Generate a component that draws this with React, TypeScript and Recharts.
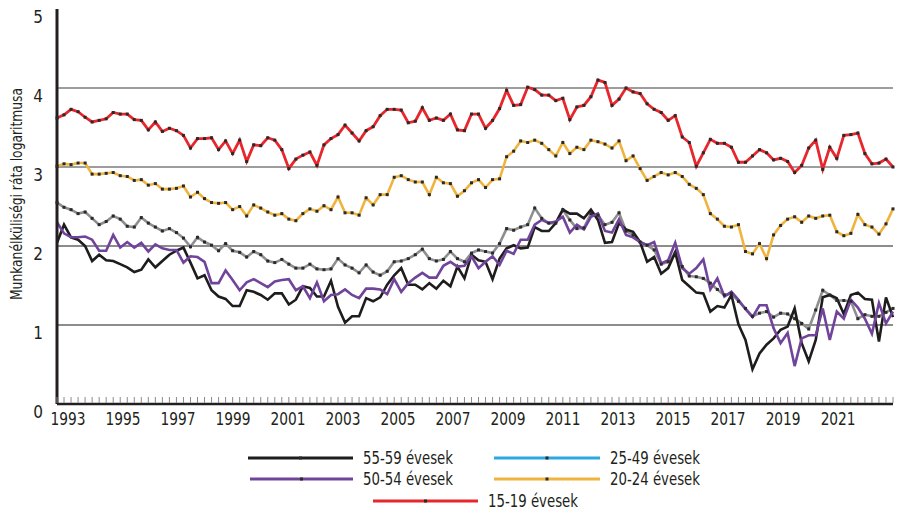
import React from "react";
import { LineChart, Line, XAxis, YAxis, ReferenceLine } from "recharts";

const FONT = "'Liberation Sans Narrow', 'Arial Narrow', 'DejaVu Sans Condensed', sans-serif";
const INK = "#231f20";

// quarterly observations, 1993 Q1 .. 2022 Q4
const quarters = Array.from({ length: 120 }, (_, i) => `${1993 + Math.floor(i / 4)} Q${(i % 4) + 1}`);

const yearLabels = ["1993", "1995", "1997", "1999", "2001", "2003", "2005", "2007", "2009", "2011", "2013", "2015", "2017", "2019", "2021"];

const age1519 = [
  3.62, 3.66, 3.73, 3.7, 3.63, 3.57, 3.59, 3.61, 3.69, 3.67,
  3.67, 3.6, 3.59, 3.47, 3.57, 3.45, 3.49, 3.46, 3.4, 3.24,
  3.36, 3.36, 3.37, 3.22, 3.33, 3.17, 3.34, 3.07, 3.28, 3.27,
  3.37, 3.34, 3.22, 2.98, 3.1, 3.15, 3.19, 3.02, 3.28, 3.36,
  3.41, 3.53, 3.43, 3.33, 3.46, 3.51, 3.65, 3.73, 3.73, 3.72,
  3.56, 3.58, 3.75, 3.59, 3.62, 3.59, 3.67, 3.47, 3.46, 3.67,
  3.67, 3.49, 3.59, 3.74, 3.97, 3.78, 3.79, 4.01, 3.98, 3.91,
  3.91, 3.84, 3.87, 3.6, 3.76, 3.78, 3.89, 4.1, 4.07, 3.78,
  3.86, 4.0, 3.95, 3.93, 3.8, 3.73, 3.69, 3.59, 3.65, 3.38,
  3.31, 3.01, 3.18, 3.35, 3.3, 3.3, 3.25, 3.06, 3.06, 3.14,
  3.22, 3.18, 3.09, 3.11, 3.07, 2.93, 3.02, 3.24, 3.34, 2.97,
  3.25, 3.11, 3.4, 3.41, 3.43, 3.17, 3.04, 3.05, 3.1, 3.0,
];

const age2024 = [
  3.01, 3.04, 3.03, 3.05, 3.05, 2.91, 2.91, 2.92, 2.93, 2.89,
  2.88, 2.83, 2.84, 2.77, 2.79, 2.72, 2.72, 2.73, 2.76, 2.62,
  2.68, 2.6, 2.55, 2.54, 2.55, 2.46, 2.5, 2.38, 2.52, 2.48,
  2.43, 2.39, 2.41, 2.34, 2.32, 2.41, 2.47, 2.44, 2.51, 2.46,
  2.62, 2.42, 2.42, 2.39, 2.61, 2.52, 2.65, 2.65, 2.87, 2.89,
  2.84, 2.81, 2.81, 2.65, 2.87, 2.8, 2.79, 2.63, 2.7, 2.8,
  2.84, 2.74, 2.84, 2.85, 3.13, 3.2, 3.33, 3.31, 3.34, 3.3,
  3.22, 3.14, 3.31, 3.17, 3.25, 3.22, 3.34, 3.32, 3.29, 3.24,
  3.33, 3.08, 3.14, 2.98, 2.83, 2.88, 2.93, 2.9, 2.93, 2.88,
  2.78, 2.73, 2.65, 2.41, 2.34, 2.25, 2.24, 2.27, 1.93, 1.9,
  2.03, 1.84, 2.14, 2.26, 2.34, 2.37, 2.3, 2.38, 2.35, 2.38,
  2.39, 2.18, 2.13, 2.16, 2.4, 2.27, 2.24, 2.15, 2.28, 2.47,
];

const age2549 = [
  2.55, 2.49, 2.46, 2.41, 2.43, 2.35, 2.27, 2.31, 2.38, 2.34,
  2.25, 2.24, 2.36, 2.29, 2.24, 2.19, 2.22, 2.17, 2.1, 1.99,
  2.11, 2.05, 2.01, 1.94, 2.03, 1.94, 1.92, 1.86, 1.93, 1.89,
  1.81, 1.79, 1.83, 1.77, 1.72, 1.72, 1.77, 1.71, 1.7, 1.71,
  1.84, 1.76, 1.72, 1.66, 1.76, 1.67, 1.63, 1.68, 1.8, 1.81,
  1.84, 1.89, 1.96, 1.84, 1.81, 1.83, 1.93, 1.84, 1.8, 1.91,
  1.95, 1.93, 1.91, 2.03, 2.22, 2.2, 2.24, 2.27, 2.48, 2.35,
  2.29, 2.29, 2.46, 2.33, 2.22, 2.23, 2.41, 2.39, 2.27, 2.3,
  2.42, 2.19, 2.14, 2.05, 2.01, 1.95, 1.77, 1.8, 1.91, 1.74,
  1.62, 1.61, 1.59, 1.53, 1.45, 1.38, 1.4, 1.3, 1.21, 1.11,
  1.15, 1.17, 1.1, 1.15, 1.14, 1.08, 1.02, 0.95, 1.19, 1.44,
  1.38, 1.31, 1.31, 1.3, 1.08, 1.13, 1.11, 1.11, 1.16, 1.21,
];

const age5054 = [
  2.3, 2.16, 2.11, 2.11, 2.12, 2.08, 1.94, 1.94, 2.14, 1.98,
  2.05, 1.98, 2.04, 1.93, 2.02, 1.97, 1.95, 1.95, 1.79, 1.87,
  1.86, 1.8, 1.53, 1.53, 1.69, 1.57, 1.44, 1.54, 1.58, 1.53,
  1.48, 1.55, 1.57, 1.58, 1.44, 1.49, 1.34, 1.54, 1.3, 1.38,
  1.39, 1.45, 1.38, 1.34, 1.46, 1.46, 1.45, 1.39, 1.58, 1.42,
  1.53, 1.6, 1.66, 1.6, 1.6, 1.75, 1.8, 1.74, 1.75, 1.87,
  1.72, 1.8, 1.87, 1.76, 1.94, 1.9, 2.08, 2.08, 2.27, 2.33,
  2.29, 2.31, 2.37, 2.17, 2.27, 2.21, 2.37, 2.41, 2.19, 2.17,
  2.34, 2.14, 2.11, 2.05, 2.01, 2.05, 1.78, 1.82, 2.04, 1.72,
  1.65, 1.72, 1.83, 1.45, 1.59, 1.36, 1.42, 1.32, 1.2, 1.1,
  1.25, 1.25, 0.96, 0.77, 0.9, 0.48, 0.83, 0.87, 0.87, 1.21,
  0.81, 1.17, 1.08, 1.32, 1.22, 1.08, 0.89, 1.28, 1.02, 1.17,
];

const age5559 = [
  2.04, 2.27, 2.11, 2.08, 2.0, 1.81, 1.89, 1.82, 1.81, 1.77,
  1.73, 1.67, 1.7, 1.83, 1.73, 1.81, 1.89, 1.94, 1.98, 1.79,
  1.59, 1.63, 1.44, 1.36, 1.33, 1.24, 1.24, 1.44, 1.42, 1.38,
  1.32, 1.4, 1.4, 1.26, 1.32, 1.49, 1.47, 1.36, 1.36, 1.56,
  1.23, 1.03, 1.11, 1.11, 1.34, 1.3, 1.35, 1.51, 1.63, 1.72,
  1.51, 1.51, 1.45, 1.53, 1.46, 1.56, 1.49, 1.74, 1.59, 1.89,
  1.82, 1.8, 1.58, 1.84, 1.97, 2.01, 1.97, 1.98, 2.24, 2.19,
  2.19, 2.29, 2.46, 2.41, 2.41, 2.35, 2.46, 2.33, 2.04, 2.05,
  2.29, 2.21, 2.18, 2.05, 1.8, 1.86, 1.65, 1.72, 1.92, 1.57,
  1.49, 1.41, 1.4, 1.17, 1.24, 1.22, 1.38, 1.01, 0.81, 0.44,
  0.64, 0.75, 0.83, 0.94, 0.98, 1.21, 0.77, 0.54, 0.81, 1.35,
  1.38, 1.34, 1.14, 1.38, 1.41, 1.33, 1.32, 0.79, 1.35, 1.1,
];

const data = quarters.map((q, i) => ({
  t: i,
  q,
  a1519: age1519[i],
  a2024: age2024[i],
  a2549: age2549[i],
  a5054: age5054[i],
  a5559: age5559[i],
}));

// year labels sit roughly mid-year, one every two years
const labelPos = yearLabels.map((_, k) => 1.57 + k * 7.83);
const labelAt = new Map(labelPos.map((p, k) => [p, yearLabels[k]]));
const xTicks = [...quarters.map((_, i) => i), ...labelPos];

const COLORS = {
  a5559: "#1f1c1d",
  a5054: "#71449b",
  a2549: "#8f8f8f",
  a2024: "#f0b43e",
  a1519: "#e8262b",
  legendBlue: "#2aa9e0",
};

const SquareDot = (p: any) => {
  if (p.cx == null || p.cy == null) return <g key={p.key} />;
  return <rect key={p.key} x={p.cx - 1.5} y={p.cy - 1.5} width={3} height={3} fill="#2a2a2a" />;
};

const XTick = (p: any) => {
  const { x, y, payload } = p;
  const label = labelAt.get(payload.value);
  if (label) {
    return (
      <text x={x} y={y + 21} textAnchor="middle" fontSize={17} fill={INK} fontFamily={FONT} textLength={35} lengthAdjust="spacingAndGlyphs">
        {label}
      </text>
    );
  }
  return <line x1={x} x2={x} y1={y - 1} y2={y - 7} stroke="#8a8a8a" strokeWidth={1} />;
};

const YTick = (p: any) => (
  <text x={p.x} y={p.y + 14} textAnchor="end" fontSize={17} fill={INK} fontFamily={FONT}>
    {p.payload.value}
  </text>
);

const legendItems = [
  { label: "55-59 évesek", color: COLORS.a5559, x1: 248, x2: 353, y: 458 },
  { label: "25-49 évesek", color: COLORS.legendBlue, x1: 494, x2: 600, y: 458 },
  { label: "50-54 évesek", color: COLORS.a5054, x1: 250, x2: 353, y: 479 },
  { label: "20-24 évesek", color: COLORS.a2024, x1: 494, x2: 600, y: 479 },
  { label: "15-19 évesek", color: COLORS.a1519, x1: 373, x2: 478, y: 501 },
];

const App = () => {
  return (
    <div style={{ position: "relative", width: 898, height: 513, background: "#fff" }}>
      <style>{"body{margin:0}"}</style>
      <LineChart width={898} height={513} data={data} margin={{ top: 9, right: 5, bottom: 0, left: 0 }}>
        <XAxis
          dataKey="t"
          type="number"
          domain={[0, 119]}
          ticks={xTicks}
          interval={0}
          height={109}
          tickSize={0}
          tickMargin={0}
          tickLine={false}
          axisLine={{ stroke: INK, strokeWidth: 2.5 }}
          tick={XTick}
        />
        <YAxis
          type="number"
          domain={[0, 5]}
          ticks={[0, 1, 2, 3, 4, 5]}
          width={57}
          tickSize={0}
          tickMargin={14}
          tickLine={false}
          axisLine={{ stroke: INK, strokeWidth: 3 }}
          tick={YTick}
          label={{
            content: () => (
              <text
                x={22}
                y={194}
                transform="rotate(-90 22 194)"
                textAnchor="middle"
                fontSize={16}
                fill={INK}
                fontFamily={FONT}
                textLength={212}
                lengthAdjust="spacingAndGlyphs"
              >
                Munkanélküliségi ráta logaritmusa
              </text>
            ),
          }}
        />
        <ReferenceLine y={4} stroke="#3c3c3c" strokeWidth={1.2} />
        <ReferenceLine y={3} stroke="#3c3c3c" strokeWidth={1.2} />
        <ReferenceLine y={2} stroke="#8c8c8c" strokeWidth={2} />
        <ReferenceLine y={1} stroke="#8c8c8c" strokeWidth={2} />
        <Line dataKey="a2549" stroke={COLORS.a2549} strokeWidth={2.6} dot={SquareDot} activeDot={false} isAnimationActive={false} />
        <Line dataKey="a5559" stroke={COLORS.a5559} strokeWidth={2.6} dot={false} activeDot={false} isAnimationActive={false} />
        <Line dataKey="a5054" stroke={COLORS.a5054} strokeWidth={2.6} dot={false} activeDot={false} isAnimationActive={false} />
        <Line dataKey="a2024" stroke={COLORS.a2024} strokeWidth={2.6} dot={SquareDot} activeDot={false} isAnimationActive={false} />
        <Line dataKey="a1519" stroke={COLORS.a1519} strokeWidth={2.8} dot={SquareDot} activeDot={false} isAnimationActive={false} />
      </LineChart>
      <svg width={898} height={513} style={{ position: "absolute", left: 0, top: 0, pointerEvents: "none" }}>
        {legendItems.map((it) => (
          <g key={it.label}>
            <line x1={it.x1} x2={it.x2} y1={it.y} y2={it.y} stroke={it.color} strokeWidth={3} />
            <rect x={(it.x1 + it.x2) / 2 - 1.5} y={it.y - 1.5} width={3} height={3} fill="#2a2a2a" />
            <text x={it.x2 + 10} y={it.y + 6} fontSize={17} fill={INK} fontFamily={FONT} textLength={90} lengthAdjust="spacingAndGlyphs">
              {it.label}
            </text>
          </g>
        ))}
      </svg>
    </div>
  );
};

export default App;
